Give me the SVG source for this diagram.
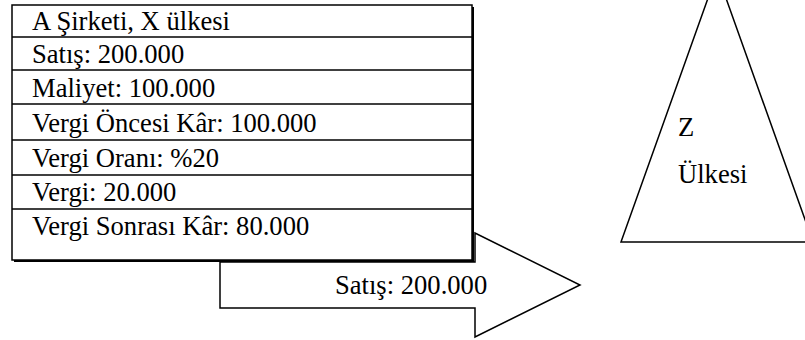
<svg xmlns="http://www.w3.org/2000/svg" width="805" height="340" viewBox="0 0 805 340">
  <style>
    .shape { fill: #fff; stroke: #000; stroke-width: 1.5; }
    .rule { stroke: #000; stroke-width: 1.5; }
    text { font-family: "Liberation Serif", "Times New Roman", serif; font-size: 26.6px; fill: #000; }
  </style>
  <rect width="805" height="340" fill="#fff"/>

  <g id="connectors">
    <!-- block arrow carrying the sale toward country Z -->
    <polygon class="shape" points="220,262 475,262 475,233 580,285 475,337 475,308 220,308"/>
    <text x="335" y="294">Satış: 200.000</text>
  </g>

  <g id="company-table">
    <!-- drop shadow -->
    <rect x="14" y="7" width="460" height="255" fill="#000"/>
    <rect class="shape" x="12" y="5" width="460" height="255"/>
    <line class="rule" x1="12" y1="37" x2="472" y2="37"/>
    <line class="rule" x1="12" y1="70" x2="472" y2="70"/>
    <line class="rule" x1="12" y1="104" x2="472" y2="104"/>
    <line class="rule" x1="12" y1="140" x2="472" y2="140"/>
    <line class="rule" x1="12" y1="175" x2="472" y2="175"/>
    <line class="rule" x1="12" y1="209" x2="472" y2="209"/>
    <text x="32" y="30">A Şirketi, X ülkesi</text>
    <text x="32" y="63">Satış: 200.000</text>
    <text x="32" y="97">Maliyet: 100.000</text>
    <text x="32" y="132">Vergi Öncesi Kâr: 100.000</text>
    <text x="32" y="167">Vergi Oranı: %20</text>
    <text x="32" y="201">Vergi: 20.000</text>
    <text x="32" y="235">Vergi Sonrası Kâr: 80.000</text>
  </g>

  <g id="country-z">
    <polygon class="shape" points="717,-27 621,242 813,242"/>
    <text x="678" y="136">Z</text>
    <text x="678" y="183">Ülkesi</text>
  </g>
</svg>
